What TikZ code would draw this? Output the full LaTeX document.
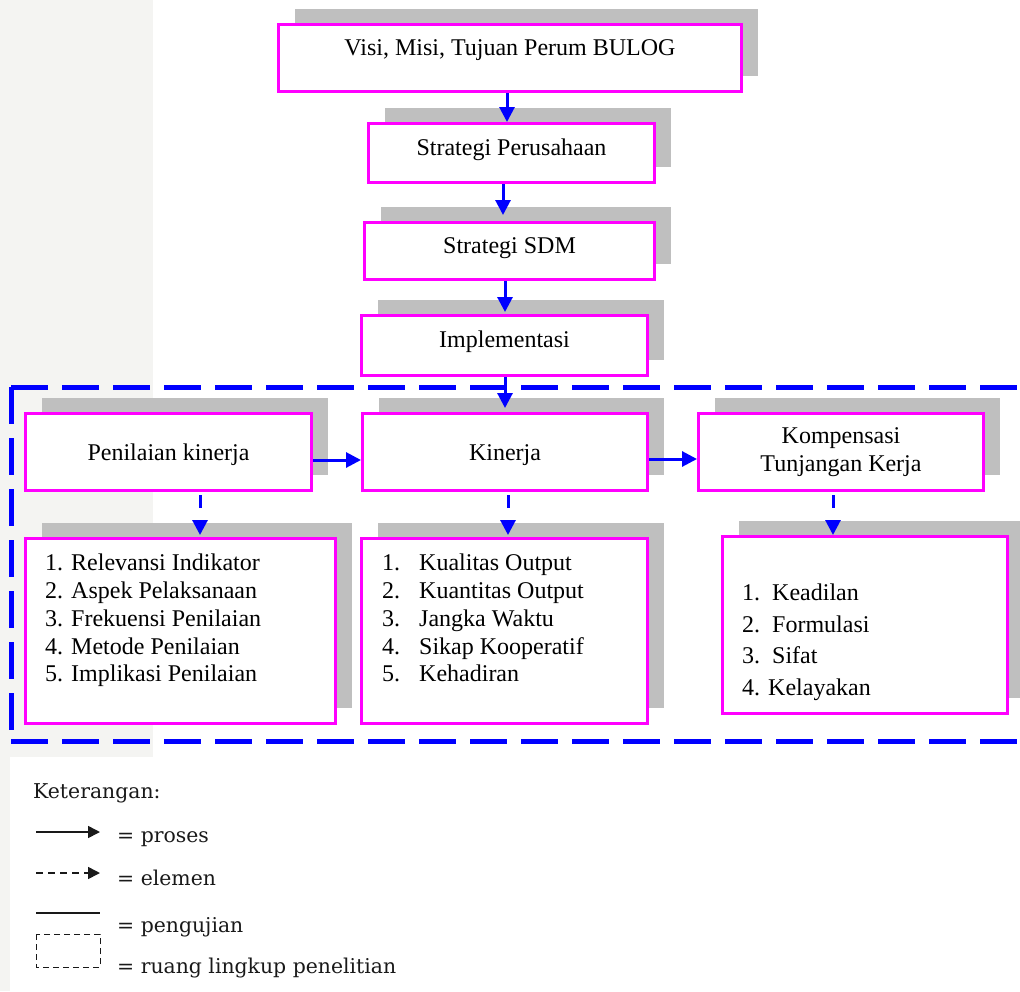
\documentclass[tikz,border=0pt]{standalone}
\usepackage{fontspec}
\setmainfont{Liberation Serif}
\newfontfamily\ketfont{DejaVu Serif}
\usepackage{tikz}
\usetikzlibrary{arrows.meta, shadows}
\definecolor{garis}{RGB}{255,0,255}
\definecolor{panah}{RGB}{0,0,255}
\definecolor{bayang}{RGB}{191,191,191}
\definecolor{latar}{RGB}{244,244,242}
\tikzstyle{process} = [rectangle, draw=garis, line width=3pt, fill=white, text centered, inner sep=0pt, font=\fontsize{24}{28}\selectfont, drop shadow={shadow xshift=16pt, shadow yshift=16pt, fill=bayang, opacity=1}]
\tikzstyle{items} = [align=left, anchor=north west, inner sep=0pt, font=\fontsize{24}{27.75}\selectfont]
\tikzstyle{arrow} = [line width=3pt, color=panah, -{Triangle[length=15pt,width=15pt]}]
\tikzstyle{elemen} = [arrow, dash pattern=on 13pt off 20pt, shorten <=3pt]
\tikzstyle{ketarrow} = [line width=1.6pt, color=black!90, -{Triangle[length=12pt,width=12pt]}]
\tikzstyle{kettext} = [anchor=base west, inner sep=0pt, text=black!90, font=\ketfont\fontsize{20.4}{23}\selectfont]

\begin{document}
\begin{tikzpicture}[x=1pt, y=-1pt]
\useasboundingbox (0,0) rectangle (1020,991);
\fill [latar] (0,0) rectangle (153,757);
\fill [latar] (0,757) rectangle (10,991);

% ruang lingkup penelitian
\draw [panah, line width=5pt, dash pattern=on 37pt off 14pt] (11,387) -- (1040,387);
\draw [panah, line width=5pt, dash pattern=on 37pt off 14pt] (11,387) -- (11,741);
\draw [panah, line width=5pt, dash pattern=on 37pt off 14pt] (11,741) -- (1040,741);

\node (visi) [process, minimum width=463pt, minimum height=67pt, text height=16pt, text depth=21pt] at (510,58) {Visi, Misi, Tujuan Perum BULOG};
\node (strategi) [process, minimum width=286pt, minimum height=59pt, text height=16pt, text depth=11pt] at (511.5,153) {Strategi Perusahaan};
\node (sdm) [process, minimum width=290pt, minimum height=57pt, text height=16pt, text depth=12pt] at (509.5,251) {Strategi SDM};
\node (impl) [process, minimum width=286pt, minimum height=60pt, text height=16pt, text depth=13pt] at (504.5,345.5) {Implementasi};

\node (penilaian) [process, minimum width=286pt, minimum height=77pt, text height=16pt, text depth=0pt] at (168.5,452) {Penilaian kinerja};
\node (kinerja) [process, minimum width=285pt, minimum height=77pt, text height=16pt, text depth=0pt] at (505,452) {Kinerja};
\node (kompensasi) [process, minimum width=285pt, minimum height=77pt, align=center] at (841,452) {Kompensasi\\Tunjangan Kerja};

\node (indpenilaian) [process, minimum width=310pt, minimum height=185pt] at (180.5,631) {};
\node (indkinerja) [process, minimum width=286pt, minimum height=185pt] at (504.5,631) {};
\node (indkompensasi) [process, minimum width=285pt, minimum height=177pt] at (865,625) {};

\node (txtpenilaian) [items] at (45,554) {1. Relevansi Indikator\\2. Aspek Pelaksanaan\\3. Frekuensi Penilaian\\4. Metode Penilaian\\5. Implikasi Penilaian};
\node (txtkinerja) [items] at (382,554) {\makebox[37pt][l]{1.}Kualitas Output\\\makebox[37pt][l]{2.}Kuantitas Output\\\makebox[37pt][l]{3.}Jangka Waktu\\\makebox[37pt][l]{4.}Sikap Kooperatif\\\makebox[37pt][l]{5.}Kehadiran};
\node (txtkompensasi) [items, font=\fontsize{24}{31.5}\selectfont] at (742,584) {\makebox[30pt][l]{1.}Keadilan\\\makebox[30pt][l]{2.}Formulasi\\\makebox[30pt][l]{3.}Sifat\\4. Kelayakan};

\draw [arrow] (visi.south -| 507,0) -- (strategi.north -| 507,0);
\draw [arrow, shorten >=6pt] (strategi.south -| 503,0) -- (sdm.north -| 503,0);
\draw [arrow, shorten >=2pt] (sdm.south -| 505,0) -- (impl.north -| 505,0);
\draw [arrow, shorten >=4pt] (impl.south -| 505,0) -- (kinerja.north -| 505,0);
\draw [arrow] ([yshift=-8pt]penilaian.east) -- ([yshift=-8pt]kinerja.west);
\draw [arrow] ([yshift=-7pt]kinerja.east) -- ([yshift=-7pt]kompensasi.west);
\draw [elemen, shorten >=2pt] (penilaian.south -| 200,0) -- (indpenilaian.north -| 200,0);
\draw [elemen, shorten >=2pt] (kinerja.south -| 508,0) -- (indkinerja.north -| 508,0);
\draw [elemen] (kompensasi.south -| 833,0) -- (indkompensasi.north -| 833,0);

% keterangan
\node (ket) [kettext] at (33,798) {Keterangan:};
\coordinate (proses1) at (36,832);
\coordinate (proses2) at (100,832);
\draw [ketarrow] (proses1) -- (proses2);
\node (kproses) [kettext] at (117,842) {= proses};
\coordinate (elemen1) at (36,873);
\coordinate (elemen2) at (100,873);
\draw [ketarrow, dash pattern=on 7pt off 5pt] (elemen1) -- (elemen2);
\node (kelemen) [kettext] at (117,885) {= elemen};
\coordinate (uji1) at (36,913);
\coordinate (uji2) at (100,913);
\draw [line width=1.6pt, black!90] (uji1) -- (uji2);
\node (kuji) [kettext] at (117,932) {= pengujian};
\coordinate (ruang1) at (36,934);
\coordinate (ruang2) at (100,967);
\draw [line width=1pt, black!90, dash pattern=on 6pt off 4pt] (ruang1) rectangle (ruang2);
\node (kruang) [kettext] at (117,973) {= ruang lingkup penelitian};
\end{tikzpicture}
\end{document}
